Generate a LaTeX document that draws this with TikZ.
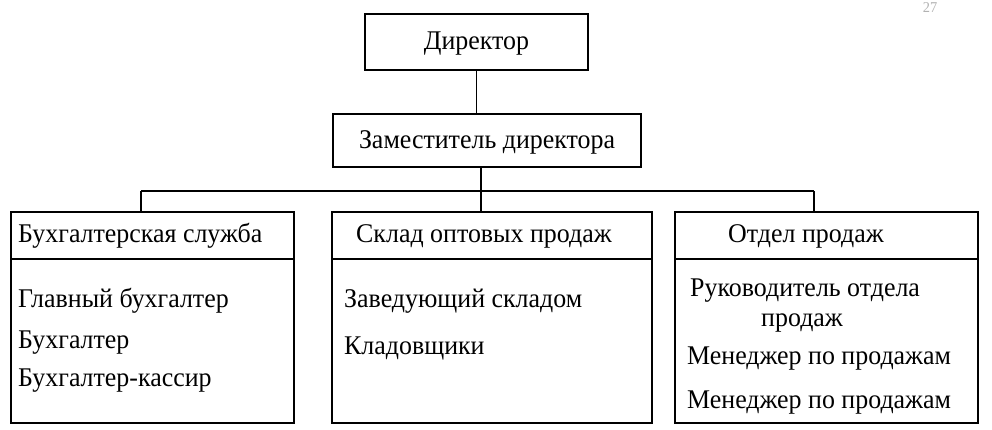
\documentclass[tikz,border=0pt]{standalone}
\usepackage{fontspec}
\setmainfont[FakeStretch=0.96]{Liberation Serif}
\usetikzlibrary{positioning}

\tikzset{
  box/.style={draw, line width=1.2pt},
  txt/.style={inner sep=0pt, anchor=base west, font=\fontsize{27}{29}\selectfont},
  link/.style={line width=1.2pt}
}

\begin{document}
\begin{tikzpicture}[x=1pt, y=-1pt]
	\useasboundingbox (0,0) rectangle (992,430);
	\node[text=gray!60, font=\fontsize{15}{15}\selectfont] (pg) at (930,8) {27};

	% top boxes
	\draw[box] (365,14) rectangle (588,70);
	\node[txt, anchor=center] (dir) at (476.5,44) {Директор};
	\draw[box] (333,114) rectangle (641,167);
	\node[txt, anchor=center] (dep) at (487,142) {Заместитель директора};
	\coordinate (dirb) at (476.5,70);
	\coordinate (dept) at (476.5,114);
	\coordinate (depb) at (481,167);

	% departments
	\draw[box] (11,212) rectangle (294,423);
	\draw[box] (11,259) -- (294,259);
	\draw[box] (332,212) rectangle (652,423);
	\draw[box] (332,259) -- (652,259);
	\draw[box] (675,212) rectangle (978,423);
	\draw[box] (675,259) -- (978,259);
	\coordinate (acct) at (141,212);
	\coordinate (stort) at (481,212);
	\coordinate (salet) at (814,212);

	\coordinate (hl) at (141,191);
	\coordinate (hm) at (481,191);
	\coordinate (hr) at (814,191);

	\draw[link] (dirb) -- (dept);
	\draw[link] (depb) -- (hm);
	\draw[link] (hl) -- (hr);
	\draw[link] (hl) -- (acct);
	\draw[link] (hm) -- (stort);
	\draw[link] (hr) -- (salet);

	% texts
	\node[txt] (acc)  at (18,243) {Бухгалтерская служба};
	\node[txt] (acc1) at (18,307) {Главный бухгалтер};
	\node[txt] (acc2) at (18,348) {Бухгалтер};
	\node[txt] (acc3) at (18,386) {Бухгалтер-кассир};

	\node[txt] (sto)  at (356,243) {Склад оптовых продаж};
	\node[txt] (sto1) at (344,307) {Заведующий складом};
	\node[txt] (sto2) at (344,354) {Кладовщики};

	\node[txt] (sal)  at (728,243) {Отдел продаж};
	\node[txt] (sal1) at (690,296) {Руководитель отдела};
	\node[txt] (sal2) at (761,326) {продаж};
	\node[txt] (sal3) at (687,364) {Менеджер по продажам};
	\node[txt] (sal4) at (687,408) {Менеджер по продажам};
\end{tikzpicture}
\end{document}
